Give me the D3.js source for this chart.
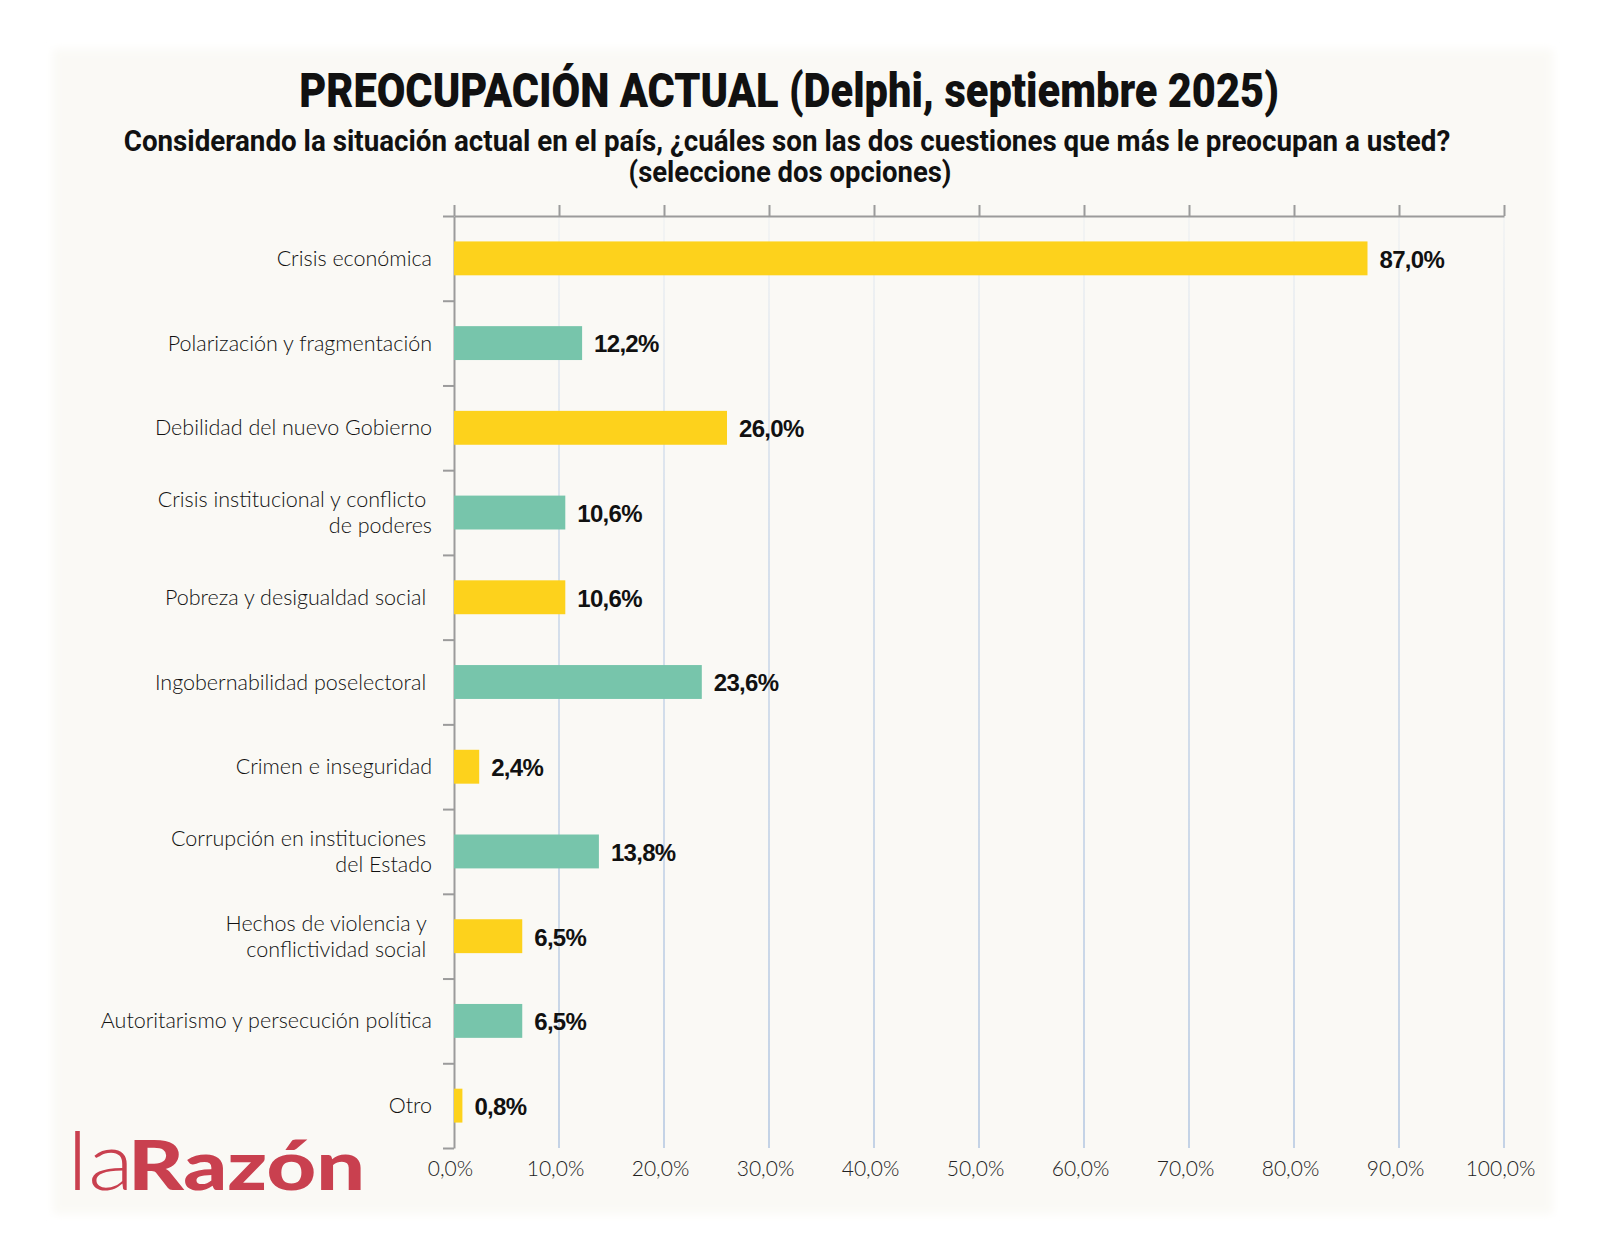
<!DOCTYPE html>
<html>
<head>
<meta charset="utf-8">
<script src="https://cdn.jsdelivr.net/npm/d3@7"></script>
<style>
  body { margin: 0; background: #ffffff; }
  svg text { white-space: pre; }
</style>
</head>
<body>
<div id="chart"></div>
<script>
// categories, one array per line of the label
var categories = [
  ["Crisis económica"],
  ["Polarización y fragmentación"],
  ["Debilidad del nuevo Gobierno"],
  ["Crisis institucional y conflicto ", "de poderes"],
  ["Pobreza y desigualdad social "],
  ["Ingobernabilidad poselectoral "],
  ["Crimen e inseguridad"],
  ["Corrupción en instituciones ", "del Estado"],
  ["Hechos de violencia y ", "conflictividad social "],
  ["Autoritarismo y persecución política"],
  ["Otro"]
];
var values = [87.0, 12.2, 26.0, 10.6, 10.6, 23.6, 2.4, 13.8, 6.5, 6.5, 0.8];
var barColors = ["#fdd21c", "#77c5ab"];
var xTicks = [0, 10, 20, 30, 40, 50, 60, 70, 80, 90, 100];

var title = "PREOCUPACIÓN ACTUAL (Delphi, septiembre 2025)";
var subtitle = ["Considerando la situación actual en el país, ¿cuáles son las dos cuestiones que más le preocupan a usted?",
                "(seleccione dos opciones)"];

var width = 1600, height = 1257;
var plot = { left: 454, right: 1504, top: 216, bottom: 1148 };
var comma = function(v) { return d3.format(".1f")(v).replace(".", ","); };
var headFont = "Roboto, 'Liberation Sans', sans-serif";
var lightFont = "Lato, 'Open Sans', sans-serif";

var svg = d3.select("#chart").append("svg")
    .attr("width", width)
    .attr("height", height);

var defs = svg.append("defs");
defs.append("filter").attr("id", "soft")
    .attr("x", "-5%").attr("y", "-5%").attr("width", "110%").attr("height", "110%")
  .append("feGaussianBlur").attr("stdDeviation", 5);

var grad = defs.append("linearGradient")
    .attr("id", "gridFade")
    .attr("gradientUnits", "userSpaceOnUse")
    .attr("x1", 0).attr("y1", plot.top).attr("x2", 0).attr("y2", plot.bottom);
grad.append("stop").attr("offset", "0%").attr("stop-color", "#bfd0e6").attr("stop-opacity", 0.15);
grad.append("stop").attr("offset", "35%").attr("stop-color", "#bfd0e6").attr("stop-opacity", 0.75);
grad.append("stop").attr("offset", "100%").attr("stop-color", "#b6c9e2").attr("stop-opacity", 1);

// panel background
svg.append("rect")
    .attr("x", 53).attr("y", 49)
    .attr("width", 1500).attr("height", 1165)
    .attr("fill", "#faf9f5")
    .attr("filter", "url(#soft)");

// squeeze a centred text horizontally to a target width
function fitText(sel, cx, cy, target) {
  var w = sel.node().getComputedTextLength();
  sel.attr("text-anchor", "middle")
     .attr("transform", "translate(" + cx + "," + cy + ") scale(" + (target / w) + ",1)");
  return sel;
}

// titles
fitText(svg.append("text")
    .style("font-family", headFont)
    .style("font-weight", 900)
    .style("font-size", "48px")
    .style("fill", "#111")
    .text(title), 789, 107, 980);

fitText(svg.append("text")
    .style("font-family", headFont)
    .style("font-weight", 700)
    .style("font-size", "29px")
    .style("fill", "#111")
    .text(subtitle[0]), 787, 151, 1327);

fitText(svg.append("text")
    .style("font-family", headFont)
    .style("font-weight", 700)
    .style("font-size", "29px")
    .style("fill", "#111")
    .text(subtitle[1]), 790, 182, 323);

// scales
var x = d3.scaleLinear().domain([0, 100]).range([plot.left, plot.right]);
var y = d3.scaleBand()
    .domain(d3.range(categories.length))
    .range([plot.top, plot.bottom])
    .paddingInner(0.6)
    .paddingOuter(0.3);
var yEdge = d3.scaleLinear().domain([0, categories.length]).range([plot.top, plot.bottom]);

var graph = svg.append("g");

// gridlines
graph.selectAll("line.grid")
    .data(xTicks.slice(1))
    .enter().append("line")
    .attr("class", "grid")
    .attr("x1", function(d) { return x(d); })
    .attr("x2", function(d) { return x(d); })
    .attr("y1", plot.top)
    .attr("y2", plot.bottom)
    .style("stroke", "url(#gridFade)")
    .style("stroke-width", 1.6);

// top axis (ticks only)
var topAxis = graph.append("g")
    .attr("transform", "translate(0," + plot.top + ")")
    .call(d3.axisTop(x).tickValues(xTicks).tickSize(11).tickSizeOuter(0).tickFormat(""));

// left axis with ticks between categories
var leftAxis = graph.append("g")
    .attr("transform", "translate(" + plot.left + ",0)")
    .call(d3.axisLeft(yEdge).tickValues(d3.range(categories.length + 1)).tickSize(11).tickSizeOuter(0).tickFormat(""));

[topAxis, leftAxis].forEach(function(a) {
  a.selectAll("path, line").style("stroke", "#9b9b9b").style("stroke-width", 2);
});

// bottom tick labels
var bottomAxis = graph.append("g")
    .attr("transform", "translate(-4," + (plot.bottom + 21) + ")")
    .call(d3.axisBottom(x).tickValues(xTicks).tickSize(0).tickFormat(function(d) { return comma(d) + "%"; }));
bottomAxis.select(".domain").remove();
bottomAxis.selectAll("text")
    .attr("y", 0).attr("dy", "0.35em")
    .style("font-family", lightFont)
    .style("font-weight", 300)
    .style("font-size", "21px")
    .style("fill", "#222");

// bars
graph.selectAll("rect.bar")
    .data(values)
    .enter().append("rect")
    .attr("class", "bar")
    .attr("x", x(0))
    .attr("y", function(d, i) { return y(i); })
    .attr("width", function(d) { return x(d) - x(0); })
    .attr("height", y.bandwidth())
    .style("fill", function(d, i) { return barColors[i % 2]; });

// value labels
graph.selectAll("text.value")
    .data(values)
    .enter().append("text")
    .attr("class", "value")
    .attr("x", function(d) { return x(d) + 12; })
    .attr("y", function(d, i) { return y(i) + y.bandwidth() / 2 + 1; })
    .attr("dy", "0.35em")
    .style("font-family", "'Liberation Sans', Arial, sans-serif")
    .style("font-weight", "bold")
    .style("font-size", "24px")
    .style("letter-spacing", "-0.7px")
    .style("fill", "#111")
    .text(function(d) { return comma(d) + "%"; });

// category labels
graph.selectAll("text.cat")
    .data(categories)
    .enter().append("text")
    .attr("class", "cat")
    .attr("text-anchor", "end")
    .attr("xml:space", "preserve")
    .style("font-family", lightFont)
    .style("font-weight", 300)
    .style("font-size", "21.5px")
    .style("fill", "#111")
    .each(function(lines, i) {
      var t = d3.select(this);
      var cy = y(i) + y.bandwidth() / 2;
      var lh = 26;
      lines.forEach(function(line, j) {
        t.append("tspan")
            .attr("x", 432)
            .attr("y", cy + (j - (lines.length - 1) / 2) * lh)
            .attr("dy", "0.35em")
            .text(line);
      });
    });

// logo
svg.append("text")
    .attr("x", 67).attr("y", 1190)
    .attr("textLength", 67).attr("lengthAdjust", "spacingAndGlyphs")
    .style("font-family", "Lato, sans-serif")
    .style("font-weight", 300)
    .style("font-size", "80px")
    .style("fill", "#c9404f")
    .text("la");

svg.append("text")
    .attr("x", 128).attr("y", 1190)
    .attr("textLength", 237).attr("lengthAdjust", "spacingAndGlyphs")
    .style("font-family", "Lato, sans-serif")
    .style("font-weight", 900)
    .style("font-size", "68px")
    .style("fill", "#c9404f")
    .text("Razón");
</script>
</body>
</html>
